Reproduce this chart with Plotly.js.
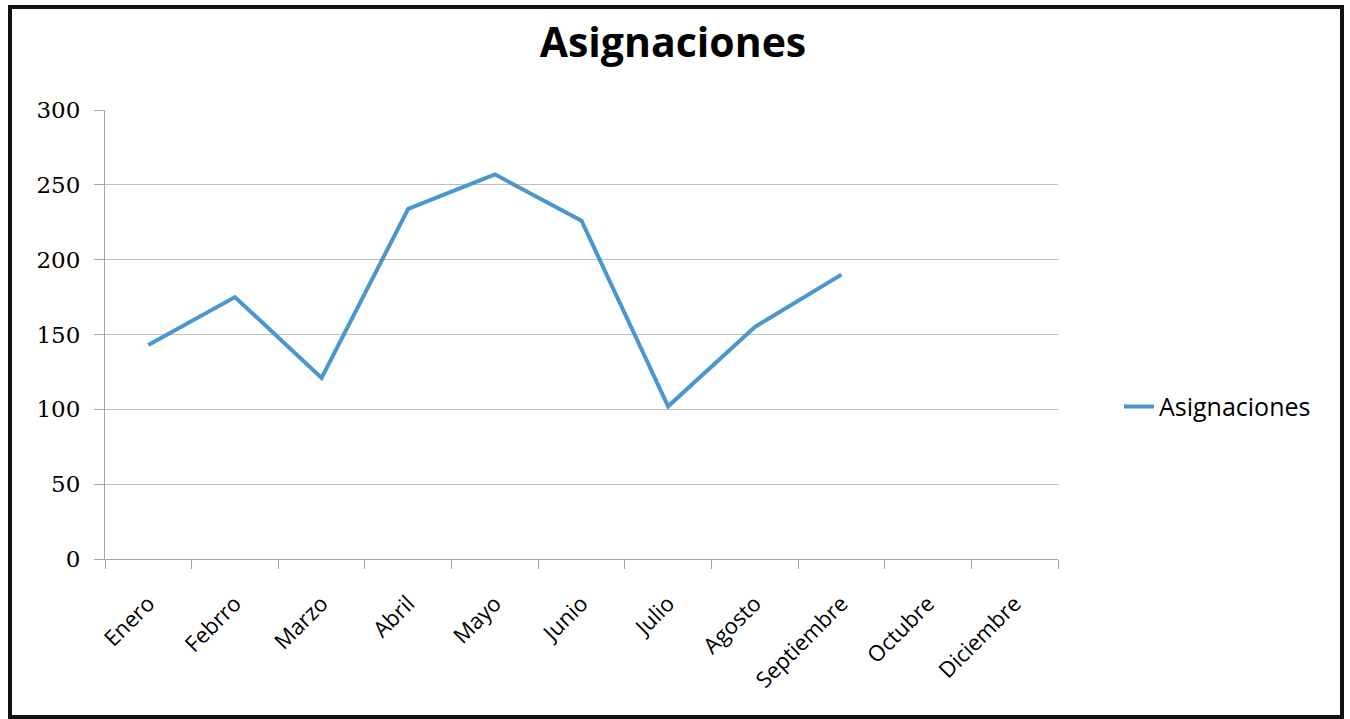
<!DOCTYPE html>
<html>
<head>
<meta charset="utf-8">
<script src="https://cdn.plot.ly/plotly-3.0.1.min.js"></script>
<style>
html,body{margin:0;padding:0;background:#fff;}
#chart{width:1350px;height:719px;}
</style>
</head>
<body>
<div id="chart"></div>
<script>
const months = ["Enero","Febrro","Marzo","Abril","Mayo","Junio","Julio","Agosto","Septiembre","Octubre","Diciembre"];
const asignaciones = [143, 175, 121, 234, 257, 226, 102, 155, 190, null, null];
const seriesName = "Asignaciones";
const chartTitle = "Asignaciones";
const yTicks = [0, 50, 100, 150, 200, 250, 300];

const trace = {
  type: "scatter",
  mode: "lines",
  x: months,
  y: asignaciones,
  name: seriesName,
  connectgaps: false,
  line: {color: "#4A96CE", width: 4},
  hoverinfo: "x+y"
};

const layout = {
  width: 1350,
  height: 719,
  paper_bgcolor: "#ffffff",
  plot_bgcolor: "#ffffff",
  margin: {l: 105, r: 292, t: 110, b: 160, pad: 0, autoexpand: false},
  title: {
    text: "<b>" + chartTitle + "</b>",
    font: {family: "Open Sans, sans-serif", size: 41, color: "#000"},
    x: 0.4985, xanchor: "center", xref: "container",
    y: 0.94, yanchor: "middle", yref: "container"
  },
  showlegend: true,
  legend: {
    x: 1.064, xanchor: "left", y: 0.339, yanchor: "middle",
    font: {family: "Open Sans, sans-serif", size: 25, color: "#000"},
    bgcolor: "rgba(0,0,0,0)", tracegroupgap: 0
  },
  xaxis: {
    type: "category",
    categoryorder: "array",
    categoryarray: months,
    range: [-0.5, 10.5],
    tickson: "boundaries",
    ticks: "outside", ticklen: 9, tickwidth: 1, tickcolor: "#A6A6A6",
    showline: true, linecolor: "#A6A6A6", linewidth: 1,
    showgrid: false, zeroline: false,
    tickangle: -45,
    ticklabelstandoff: 22,
    tickfont: {family: "Open Sans, sans-serif", size: 22, color: "#000"},
    fixedrange: true
  },
  yaxis: {
    range: [0, 300],
    tickvals: yTicks,
    ticktext: yTicks.map(String),
    ticks: "outside", ticklen: 10, tickwidth: 1, tickcolor: "#A6A6A6",
    showline: true, linecolor: "#A6A6A6", linewidth: 1,
    showgrid: true, gridcolor: "#BEBEBE", gridwidth: 1,
    zeroline: false,
    ticklabelstandoff: 9,
    tickfont: {family: "DejaVu Serif, serif", size: 23, color: "#000"},
    fixedrange: true
  },
  shapes: [
    {type: "rect", xref: "paper", yref: "paper",
     x0: (10 - 105) / 953, x1: (1342 - 105) / 953,
     y0: (559 - 717) / 449, y1: (559 - 7) / 449,
     line: {color: "#111", width: 4}, fillcolor: "rgba(0,0,0,0)", layer: "above"}
  ]
};

Plotly.newPlot("chart", [trace], layout, {displayModeBar: false, staticPlot: false});
</script>
</body>
</html>
